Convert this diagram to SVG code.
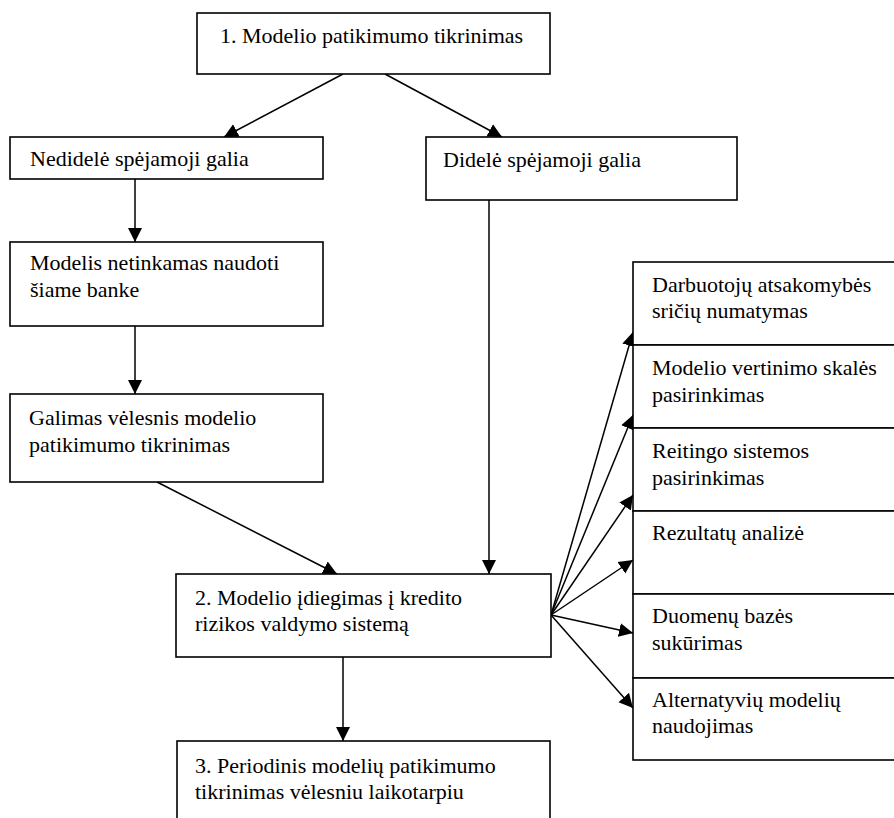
<svg xmlns="http://www.w3.org/2000/svg" width="894" height="818" viewBox="0 0 894 818">
  <style>
    .box { fill: #ffffff; stroke: #000000; stroke-width: 1.6; }
    .lbl { font-size: 22px; fill: #000000; }
    .edge { fill: none; stroke: #000000; stroke-width: 1.5; marker-end: url(#head); }
  </style>
  <defs>
    <marker id="head" markerUnits="userSpaceOnUse" markerWidth="16" markerHeight="16" refX="14" refY="8" orient="auto">
      <path d="M0,1 L14,8 L0,15 z" fill="#000000"/>
    </marker>
  </defs>

  <rect width="894" height="818" fill="#ffffff"/>

  <!-- connectors -->
  <g id="connectors">
    <line class="edge" x1="343" y1="74" x2="224" y2="137"/>
    <line class="edge" x1="385" y1="74" x2="502" y2="137"/>
    <line class="edge" x1="135" y1="179" x2="135" y2="242"/>
    <line class="edge" x1="135" y1="326" x2="135" y2="394"/>
    <line class="edge" x1="157" y1="482" x2="337" y2="574"/>
    <line class="edge" x1="489" y1="200" x2="489" y2="574"/>
    <line class="edge" x1="343" y1="657" x2="343" y2="741"/>
    <line class="edge" x1="551" y1="615" x2="633" y2="332"/>
    <line class="edge" x1="551" y1="615" x2="633" y2="415"/>
    <line class="edge" x1="551" y1="615" x2="633" y2="495"/>
    <line class="edge" x1="551" y1="615" x2="633" y2="560"/>
    <line class="edge" x1="551" y1="615" x2="633" y2="633"/>
    <line class="edge" x1="551" y1="615" x2="633" y2="708"/>
  </g>

  <g font-family="'Liberation Serif', 'Times New Roman', Times, serif">
  <!-- main chain -->
  <g id="n-tikrinimas">
    <rect class="box" x="197" y="13" width="353" height="61"/>
    <text class="lbl" x="220" y="43">1. Modelio patikimumo tikrinimas</text>
  </g>
  <g id="n-nedidele">
    <rect class="box" x="10" y="137" width="313" height="42"/>
    <text class="lbl" x="30" y="166">Nedidelė spėjamoji galia</text>
  </g>
  <g id="n-didele">
    <rect class="box" x="426" y="137" width="311" height="63"/>
    <text class="lbl" x="443" y="167">Didelė spėjamoji galia</text>
  </g>
  <g id="n-netinkamas">
    <rect class="box" x="10" y="242" width="313" height="84"/>
    <text class="lbl" x="30" y="270">Modelis netinkamas naudoti</text>
    <text class="lbl" x="30" y="297">šiame banke</text>
  </g>
  <g id="n-velesnis">
    <rect class="box" x="10" y="394" width="313" height="88"/>
    <text class="lbl" x="29" y="425">Galimas vėlesnis modelio</text>
    <text class="lbl" x="29" y="452">patikimumo tikrinimas</text>
  </g>
  <g id="n-idiegimas">
    <rect class="box" x="176" y="574" width="375" height="83"/>
    <text class="lbl" x="195" y="605">2. Modelio įdiegimas į kredito</text>
    <text class="lbl" x="195" y="631">rizikos valdymo sistemą</text>
  </g>
  <g id="n-periodinis">
    <rect class="box" x="177" y="741" width="373" height="100"/>
    <text class="lbl" x="195" y="773">3. Periodinis modelių patikimumo</text>
    <text class="lbl" x="195" y="799">tikrinimas vėlesniu laikotarpiu</text>
  </g>

  <!-- implementation steps -->
  <g id="n-darbuotoju">
    <rect class="box" x="633" y="262" width="280" height="83"/>
    <text class="lbl" x="652" y="292">Darbuotojų atsakomybės</text>
    <text class="lbl" x="652" y="318">sričių numatymas</text>
  </g>
  <g id="n-skales">
    <rect class="box" x="633" y="345" width="280" height="83"/>
    <text class="lbl" x="652" y="375">Modelio vertinimo skalės</text>
    <text class="lbl" x="652" y="402">pasirinkimas</text>
  </g>
  <g id="n-reitingo">
    <rect class="box" x="633" y="428" width="280" height="83"/>
    <text class="lbl" x="652" y="458">Reitingo sistemos</text>
    <text class="lbl" x="652" y="485">pasirinkimas</text>
  </g>
  <g id="n-rezultatu">
    <rect class="box" x="633" y="511" width="280" height="83"/>
    <text class="lbl" x="652" y="540">Rezultatų analizė</text>
  </g>
  <g id="n-duomenu">
    <rect class="box" x="633" y="594" width="280" height="84"/>
    <text class="lbl" x="652" y="623">Duomenų bazės</text>
    <text class="lbl" x="652" y="650">sukūrimas</text>
  </g>
  <g id="n-alternatyviu">
    <rect class="box" x="633" y="678" width="280" height="82"/>
    <text class="lbl" x="652" y="707">Alternatyvių modelių</text>
    <text class="lbl" x="652" y="733">naudojimas</text>
  </g>
  </g>
</svg>
